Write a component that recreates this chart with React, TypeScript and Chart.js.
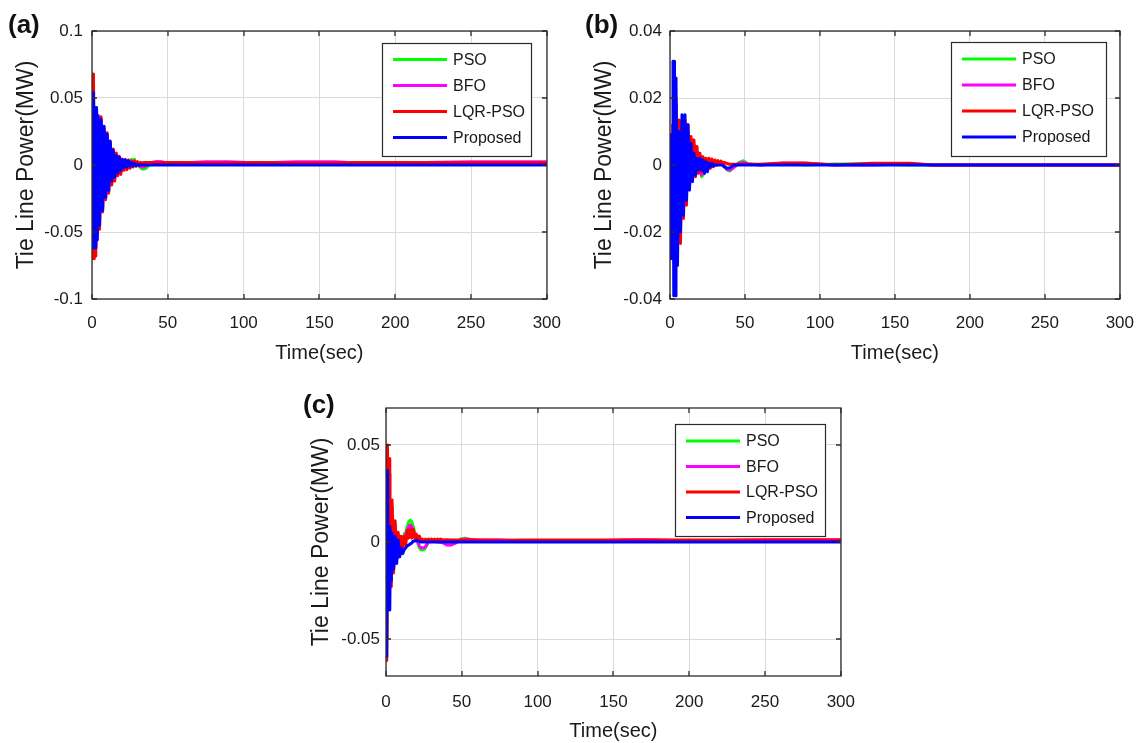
import React, { useEffect, useRef } from "react";
import { Chart, registerables } from "chart.js";

Chart.register(...registerables);

// ---------------- DATA ----------------
// Shared time grid (seconds)
const TIME_SEC = [
  0, 0.5, 1, 1.5, 2, 2.5, 3, 3.5, 4,
  5, 6, 7, 8, 9, 10, 11, 12, 13, 14,
  15, 16, 17, 18, 19, 20, 21, 22, 23, 24,
  25, 26, 27, 28, 29, 30, 31, 32, 33, 34,
  35, 36, 38, 40, 43, 46, 49, 52, 60, 75, 90, 110, 135, 160, 175, 200, 250, 300,
];

const SERIES_LABELS = ["PSO", "BFO", "LQR-PSO", "Proposed"];
const SERIES_COLORS = ["#00ff00", "#ff00ff", "#ff0000", "#0000ff"];

const X_TICKS = [0, 50, 100, 150, 200, 250, 300];
const Y_TICKS_A = [-0.1, -0.05, 0, 0.05, 0.1];
const Y_TICKS_B = [-0.04, -0.02, 0, 0.02, 0.04];
const Y_TICKS_C = [-0.05, 0, 0.05];

const X_TITLE = "Time(sec)";
const Y_TITLE = "Tie Line Power(MW)";

// ---- Panel (a) ----
const PSO_A = [
  0.015, -0.06, 0.06, -0.065, 0.04, -0.06, 0.04, -0.05, 0.034,
  -0.042, 0.033, -0.032, 0.025, -0.024, 0.022, -0.019, 0.016, -0.014, 0.011,
  -0.01, 0.008, -0.007, 0.006, -0.005, 0.004, -0.003, 0.003, 0.001, 0.0035,
  0.002, 0.0043, 0.003, 0.0043, 0.001, 0.0005, -0.001, -0.002, -0.003, -0.003,
  -0.0028, -0.002, 0, 0.001, 0.0012, 0.0012, 0.0012, 0.0012, 0.0012, 0.0012, 0.0012, 0.0012, 0.0012, 0.0012, 0.0012, 0.0012, 0.0012, 0.0012,
];
const BFO_A = [
  0.018, -0.065, 0.062, -0.066, 0.04, -0.062, 0.04, -0.05, 0.034,
  -0.043, 0.033, -0.033, 0.025, -0.025, 0.022, -0.02, 0.016, -0.014, 0.011,
  -0.01, 0.008, -0.007, 0.006, -0.005, 0.004, -0.003, 0.003, 0.001, 0.003,
  0.001, 0.003, 0.002, 0.003, 0.001, 0.0005, -0.0005, -0.001, -0.0015, -0.0015,
  -0.001, 0, 0.001, 0.002, 0.0026, 0.0024, 0.0015, 0.0015, 0.0015, 0.0024, 0.0024, 0.0015, 0.0024, 0.0024, 0.0015, 0.0015, 0.0024, 0.0024,
];
const LQR_A = [
  0.02, -0.07, 0.068, -0.07, 0.042, -0.068, 0.042, -0.053, 0.036,
  -0.048, 0.036, -0.035, 0.027, -0.026, 0.024, -0.021, 0.017, -0.015, 0.012,
  -0.012, 0.009, -0.008, 0.0065, -0.007, 0.0045, -0.004, 0.0037, -0.0035, 0.0037,
  -0.0025, 0.003, -0.0015, 0.003, -0.001, 0.0025, -0.0005, 0.002, 0.0012, 0.0018,
  0.0018, 0.0018, 0.0018, 0.0018, 0.0016, 0.0016, 0.0018, 0.0018, 0.0018, 0.0014, 0.0014, 0.0018, 0.0015, 0.0015, 0.0018, 0.0018, 0.0016, 0.0016,
];
const PROP_A = [
  0.027, -0.062, 0.054, -0.062, 0.043, -0.062, 0.043, -0.056, 0.037,
  -0.045, 0.034, -0.034, 0.029, -0.024, 0.023, -0.019, 0.018, -0.012, 0.011,
  -0.009, 0.007, -0.006, 0.006, -0.004, 0.004, -0.002, 0.004, -0.0015, 0.003,
  -0.001, 0.002, -0.0008, 0.0012, -0.0005, 0.0006, -0.0003, 0.0003, 0, 0,
  0, 0, 0, 0, 0, 0, 0, 0, 0, 0, 0, 0, 0, 0, 0, 0, 0, 0,
];

// ---- Panel (b) ----
const PSO_B = [
  0.001, -0.001, 0.004, -0.01, 0.012, -0.02, 0.018, -0.022, 0.018,
  -0.02, 0.012, -0.02, 0.012, -0.014, 0.012, -0.008, 0.01, -0.005, 0.007,
  -0.003, 0.006, -0.003, 0.004, -0.002, 0.002, -0.0035, -0.003, -0.002, 0.001,
  -0.001, 0.001, -0.0005, 0.0008, 0, 0.0008, 0, 0.0008, 0.0005, 0.0005,
  0.0003, 0, -0.0015, -0.0018, -0.0005, 0.0008, 0.0013, 0.0004, 0, 0.0004, 0, 0.0003, 0.0004, 0, 0, 0, 0, 0,
];
const BFO_B = [
  0.001, -0.001, 0.004, -0.01, 0.012, -0.02, 0.018, -0.022, 0.018,
  -0.02, 0.012, -0.02, 0.012, -0.014, 0.012, -0.008, 0.01, -0.005, 0.007,
  -0.003, 0.006, -0.003, 0.004, -0.002, 0.002, -0.003, 0.001, -0.002, 0.001,
  -0.001, 0.001, -0.0005, 0.0008, 0, 0.0008, 0, 0.0008, 0.0005, 0.0005,
  0.0003, 0, -0.0013, -0.0015, -0.0006, 0.0005, 0.0008, 0.0003, 0, 0.0005, 0.0005, 0, 0, 0.0004, 0, 0, 0, 0,
];
const LQR_B = [
  0.001, -0.001, 0.004, -0.01, 0.012, -0.02, 0.02, -0.025, 0.02,
  -0.022, 0.0134, -0.0234, 0.0134, -0.016, 0.0134, -0.012, 0.012, -0.007, 0.0085,
  -0.0045, 0.0075, -0.0035, 0.0055, -0.0025, 0.0035, -0.002, 0.0025, -0.002, 0.002,
  -0.0015, 0.002, -0.001, 0.0018, -0.0005, 0.0015, 0, 0.0013, 0.0005, 0.0012,
  0.0005, 0.0008, 0.0005, 0.0002, 0.0002, 0.0002, 0.0002, 0.0002, 0.0002, 0.0006, 0.0006, 0, 0.0005, 0.0005, 0, 0, 0, 0,
];
const PROP_B = [
  0.009, -0.028, 0.009, -0.028, 0.031, -0.039, 0.031, -0.039, 0.026,
  -0.03, 0.01, -0.02, 0.015, -0.015, 0.015, -0.0105, 0.012, -0.0075, 0.0065,
  -0.005, 0.0035, -0.003, 0.002, -0.0015, 0.002, -0.0015, 0.0015, -0.0025, 0.001,
  -0.002, 0.0005, -0.0005, 0.0005, -0.0003, 0, 0, 0, 0, 0,
  0, -0.0005, -0.001, -0.0008, 0, 0, 0, 0, 0, 0, 0, 0, 0, 0, 0, 0, 0, 0,
];

// ---- Panel (c) ----
const PSO_C = [
  0.015, -0.05, 0.04, -0.02, 0.035, -0.02, 0.018, -0.02, 0.018,
  -0.014, 0.009, -0.009, 0.004, -0.006, 0.002, -0.002, 0.004, 0.005, 0.008,
  0.0105, 0.0113, 0.0105, 0.008, 0.005, 0.002, -0.001, -0.003, -0.004, -0.0041,
  -0.004, -0.003, -0.0015, 0, 0.0008, 0.001, 0.001, 0.0008, 0.0005, 0.0003,
  0, 0, -0.0005, -0.0012, -0.0015, -0.0005, 0.0015, 0.002, 0.0005, 0.0005, 0.0005, 0.0005, 0.0008, 0.0008, 0.0005, 0.0005, 0.0005, 0.0005,
];
const BFO_C = [
  0.015, -0.05, 0.04, -0.02, 0.035, -0.02, 0.018, -0.02, 0.018,
  -0.014, 0.009, -0.009, 0.004, -0.006, 0.002, -0.002, 0.003, 0.004, 0.006,
  0.008, 0.0088, 0.008, 0.006, 0.004, 0.002, 0, -0.002, -0.003, -0.003,
  -0.003, -0.0025, -0.0012, 0, 0.0005, 0.0008, 0.0008, 0.0005, 0.0003, 0,
  0, 0, -0.0005, -0.0015, -0.0015, -0.0005, 0.001, 0.0015, 0.001, 0.0012, 0.0005, 0.0005, 0.0005, 0.0012, 0.0012, 0.0005, 0.0012, 0.0012,
];
const LQR_C = [
  0.02, -0.061, 0.05, -0.023, 0.043, -0.023, 0.0216, -0.023, 0.0216,
  -0.016, 0.011, -0.011, 0.005, -0.0076, 0.003, -0.004, 0.003, -0.0015, 0.006,
  0.002, 0.007, 0.002, 0.0065, 0.002, 0.004, 0.001, 0.003, 0.0008, 0.0015,
  0.0005, 0.0015, 0.0008, 0.0015, 0.0008, 0.0015, 0.0008, 0.0015, 0.0008, 0.0015,
  0.001, 0.0015, 0.001, 0.0012, 0.001, 0.001, 0.001, 0.001, 0.001, 0.0008, 0.001, 0.001, 0.001, 0.001, 0.001, 0.001, 0.001, 0.001,
];
const PROP_C = [
  0.0345, -0.059, 0.037, -0.025, 0.008, -0.035, 0.006, -0.02, 0.0045,
  -0.014, 0.003, -0.011, 0.001, -0.0076, -0.003, -0.006, -0.004, -0.003, -0.002,
  -0.0015, -0.001, -0.0005, 0.0005, 0.0005, 0.0008, 0.0005, 0.0003, 0, 0,
  0, 0, 0, 0, 0, 0, 0, 0, 0, 0,
  0, 0, 0, 0, 0, 0, 0, 0, 0, 0, 0, 0, 0, 0, 0, 0, 0, 0,
];

// ---------------- STYLE / LAYOUT ----------------
const FONT = '"Liberation Sans", Arial, Helvetica, sans-serif';
const INK = "#1a1a1a";
const FRAME = "#2b2b2b";
const GRID = "#dadada";

const framePlugin = {
  id: "matlabFrame",
  afterDatasetsDraw(chart: any, _args: any, opts: any) {
    const { ctx, chartArea } = chart;
    const l = Math.round(chartArea.left);
    const r = Math.round(chartArea.right);
    const t = Math.round(chartArea.top);
    const b = Math.round(chartArea.bottom);
    const xs = chart.scales.x;
    const ys = chart.scales.y;
    ctx.save();
    ctx.strokeStyle = FRAME;
    ctx.lineWidth = 1.3;
    const tl = 5;
    ctx.beginPath();
    xs.ticks.forEach((tk: any) => {
      const p = Math.round(xs.getPixelForValue(tk.value));
      ctx.moveTo(p, b);
      ctx.lineTo(p, b - tl);
      ctx.moveTo(p, t);
      ctx.lineTo(p, t + tl);
    });
    ys.ticks.forEach((tk: any) => {
      const p = Math.round(ys.getPixelForValue(tk.value));
      ctx.moveTo(l, p);
      ctx.lineTo(l + tl, p);
      ctx.moveTo(r, p);
      ctx.lineTo(r - tl, p);
    });
    ctx.stroke();
    ctx.strokeRect(l, t, r - l, b - t);

    // legend box
    const bw = opts.boxWidth;
    const bh = opts.boxHeight;
    const bx = r - opts.insetRight - bw;
    const by = t + opts.insetTop;
    ctx.fillStyle = "#ffffff";
    ctx.fillRect(bx, by, bw, bh);
    ctx.lineWidth = 1.2;
    ctx.strokeStyle = FRAME;
    ctx.strokeRect(bx + 0.5, by + 0.5, bw, bh);
    ctx.font = `16px ${FONT}`;
    ctx.textBaseline = "middle";
    ctx.textAlign = "left";
    chart.data.datasets.forEach((ds: any, i: number) => {
      const cy = by + opts.firstRow + i * opts.rowGap;
      ctx.strokeStyle = ds.borderColor;
      ctx.lineWidth = 3;
      ctx.beginPath();
      ctx.moveTo(bx + 11, cy);
      ctx.lineTo(bx + 65, cy);
      ctx.stroke();
      ctx.fillStyle = INK;
      ctx.fillText(ds.label, bx + 71, cy + 1);
    });
    ctx.restore();
  },
};

const PANELS = [
  {
    key: "a", label: "(a)", labelLeft: 8, labelTop: 11,
    left: 0, top: 0, width: 575, height: 365,
    padLeft: 13, padTop: 31, padRight: 25, yWidth: 79, xHeight: 66,
    yMin: -0.1, yMax: 0.1, yTicks: Y_TICKS_A, yTickPad: 9, xTickPad: 14,
    legend: { insetRight: 16, insetTop: 12, boxWidth: 149, boxHeight: 113, firstRow: 16.5, rowGap: 26 },
    series: [PSO_A, BFO_A, LQR_A, PROP_A],
  },
  {
    key: "b", label: "(b)", labelLeft: 585, labelTop: 11,
    left: 578, top: 0, width: 570, height: 365,
    padLeft: 13, padTop: 31, padRight: 20, yWidth: 79, xHeight: 66,
    yMin: -0.04, yMax: 0.04, yTicks: Y_TICKS_B, yTickPad: 8, xTickPad: 14,
    legend: { insetRight: 14, insetTop: 11, boxWidth: 155, boxHeight: 114, firstRow: 17, rowGap: 26 },
    series: [PSO_B, BFO_B, LQR_B, PROP_B],
  },
  {
    key: "c", label: "(c)", labelLeft: 303, labelTop: 391,
    left: 296, top: 380, width: 575, height: 363,
    padLeft: 12, padTop: 28, padRight: 26, yWidth: 78, xHeight: 67,
    yMin: -0.069, yMax: 0.069, yTicks: Y_TICKS_C, yTickPad: 6, xTickPad: 16,
    legend: { insetRight: 16, insetTop: 16, boxWidth: 150, boxHeight: 112, firstRow: 17, rowGap: 25.5 },
    series: [PSO_C, BFO_C, LQR_C, PROP_C],
  },
];

function Panel({ spec }: { spec: any }) {
  const ref = useRef<HTMLCanvasElement>(null);
  useEffect(() => {
    if (!ref.current) return;
    const chart = new Chart(ref.current, {
      type: "line",
      data: {
        datasets: SERIES_LABELS.map((label, i) => ({
          label,
          data: TIME_SEC.map((t, k) => ({ x: t, y: spec.series[i][k] })),
          borderColor: SERIES_COLORS[i],
          backgroundColor: SERIES_COLORS[i],
          borderWidth: 3,
          borderJoinStyle: "round",
          pointRadius: 0,
          tension: 0,
          fill: false,
          order: 3 - i,
        })),
      },
      options: {
        responsive: false,
        animation: false,
        devicePixelRatio: 1,
        events: [],
        layout: { padding: { left: spec.padLeft, top: spec.padTop, right: spec.padRight, bottom: 0 } },
        plugins: {
          legend: { display: false },
          tooltip: { enabled: false },
          matlabFrame: spec.legend,
        },
        scales: {
          x: {
            type: "linear",
            min: 0,
            max: 300,
            afterBuildTicks: (axis: any) => {
              axis.ticks = X_TICKS.map((v) => ({ value: v }));
            },
            afterFit: (axis: any) => {
              axis.height = spec.xHeight;
            },
            grid: { color: GRID, lineWidth: 1, drawTicks: false },
            border: { display: false },
            ticks: {
              padding: spec.xTickPad,
              color: INK,
              font: { family: FONT, size: 17 },
              maxRotation: 0,
              autoSkip: false,
              callback: (v: any) => String(v),
            },
            title: {
              display: true,
              text: X_TITLE,
              color: INK,
              font: { family: FONT, size: 20 },
              padding: 0,
            },
          },
          y: {
            type: "linear",
            min: spec.yMin,
            max: spec.yMax,
            afterBuildTicks: (axis: any) => {
              axis.ticks = spec.yTicks.map((v: number) => ({ value: v }));
            },
            afterFit: (axis: any) => {
              axis.width = spec.yWidth;
            },
            grid: { color: GRID, lineWidth: 1, drawTicks: false },
            border: { display: false },
            ticks: {
              padding: spec.yTickPad,
              color: INK,
              font: { family: FONT, size: 17 },
              autoSkip: false,
              callback: (v: any) => String(v),
            },
            title: {
              display: true,
              text: Y_TITLE,
              color: INK,
              font: { family: FONT, size: 23 },
              padding: 0,
            },
          },
        },
      },
      plugins: [framePlugin],
    } as any);
    return () => chart.destroy();
  }, []);
  return (
    <canvas
      ref={ref}
      width={spec.width}
      height={spec.height}
      style={{ position: "absolute", left: spec.left, top: spec.top, width: spec.width, height: spec.height }}
    />
  );
}

export default function App() {
  return (
    <div
      style={{
        position: "absolute",
        left: 0,
        top: 0,
        width: 1148,
        height: 743,
        background: "#ffffff",
        overflow: "hidden",
        fontFamily: FONT,
      }}
    >
      {PANELS.map((p) => (
        <Panel key={p.key} spec={p} />
      ))}
      {PANELS.map((p) => (
        <div
          key={"lbl" + p.key}
          style={{
            position: "absolute",
            left: p.labelLeft,
            top: p.labelTop,
            fontSize: 26,
            lineHeight: "1",
            fontWeight: "bold",
            color: "#111",
            whiteSpace: "nowrap",
          }}
        >
          {p.label}
        </div>
      ))}
    </div>
  );
}
